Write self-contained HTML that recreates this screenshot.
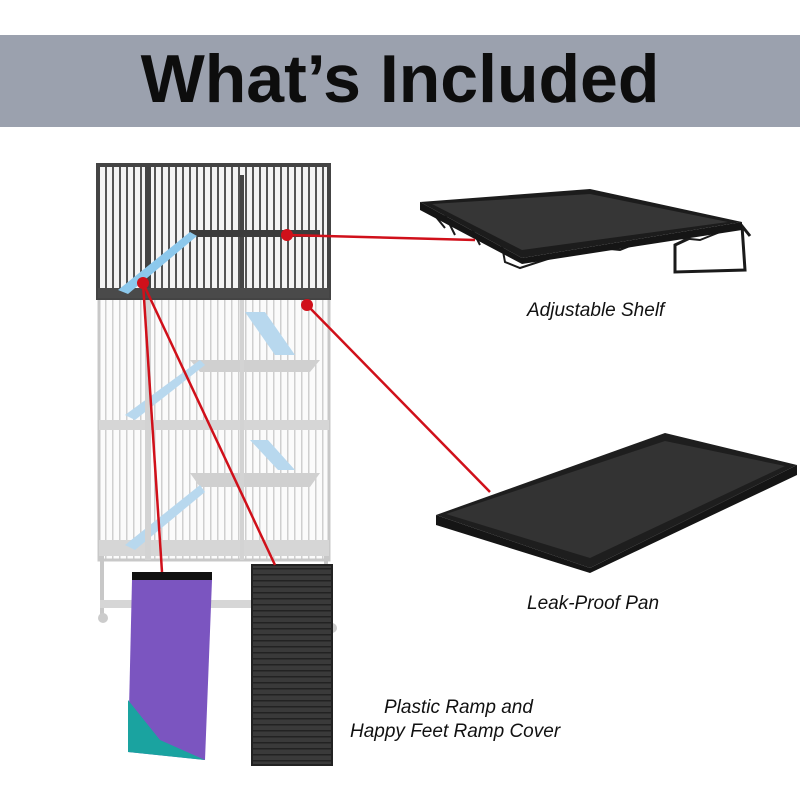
<!DOCTYPE html>
<html><head><style>
html,body{margin:0;padding:0;background:#fff;}
body{width:800px;height:800px;overflow:hidden;position:relative;font-family:"Liberation Sans",sans-serif;}
.t{position:absolute;font-style:italic;font-size:19px;color:#111;white-space:nowrap;}
</style></head><body>
<svg width="800" height="800" viewBox="0 0 800 800" style="position:absolute;left:0;top:0">
<defs>
<pattern id="bd" width="7" height="10" patternUnits="userSpaceOnUse"><rect width="7" height="10" fill="#f4f4f4"/><rect width="2" height="10" fill="#555"/></pattern>
<pattern id="bl" width="7" height="10" patternUnits="userSpaceOnUse"><rect width="7" height="10" fill="#fbfbfb"/><rect width="1.5" height="10" fill="#cfcfcf"/></pattern>
<pattern id="rp" width="10" height="6" patternUnits="userSpaceOnUse"><rect width="10" height="6" fill="#3a3a3a"/><rect y="4" width="10" height="1.5" fill="#222"/></pattern>
</defs>
<rect x="0" y="35" width="800" height="92" fill="#9ba1ae"/>
<text x="400" y="102" text-anchor="middle" font-family="Liberation Sans" font-weight="bold" font-size="68" fill="#0d0d0d">What’s Included</text>

<rect x="99" y="298" width="230" height="262" fill="url(#bl)" stroke="#c8c8c8" stroke-width="3"/>
<rect x="99" y="420" width="230" height="10" fill="#d6d6d6"/>
<rect x="99" y="540" width="230" height="16" fill="#d6d6d6"/>
<polygon points="190,360 320,360 310,372 200,372" fill="#d0d0d0"/>
<polygon points="190,473 320,473 310,487 200,487" fill="#d0d0d0"/>
<polygon points="245,312 265,312 295,355 275,355" fill="#b8d8ee"/>
<polygon points="250,440 268,440 295,470 278,470" fill="#b8d8ee"/>
<polygon points="125,415 200,360 205,365 135,420" fill="#b8d8ee"/>
<polygon points="125,545 200,485 205,492 135,550" fill="#b8d8ee"/>
<rect x="145" y="298" width="6" height="262" fill="#d3d3d3"/>
<rect x="240" y="298" width="4" height="262" fill="#d3d3d3"/>
<rect x="100" y="556" width="4" height="60" fill="#c8c8c8"/>
<rect x="324" y="556" width="4" height="60" fill="#c8c8c8"/>
<rect x="100" y="600" width="228" height="8" fill="#d6d6d6"/>
<circle cx="103" cy="618" r="5" fill="#ccc"/><circle cx="332" cy="628" r="5" fill="#ccc"/>

<rect x="98" y="165" width="231" height="133" fill="url(#bd)" stroke="#444" stroke-width="4"/>
<rect x="145" y="165" width="6" height="133" fill="#444"/>
<rect x="240" y="175" width="4" height="123" fill="#444"/>
<rect x="98" y="288" width="231" height="10" fill="#4a4a4a"/>
<rect x="190" y="230" width="130" height="7" fill="#3c3c3c"/>
<polygon points="118,290 190,232 197,236 128,294" fill="#8cc8ec"/>

<!-- shelf -->
<path d="M432 212 L445 228 M445 215 L455 235 M470 225 L480 245 M500 235 L505 262 L520 268 L560 255 L600 248 L620 250 L640 242 L680 238 L700 240 L720 232" stroke="#1a1a1a" stroke-width="2" fill="none"/>
<path d="M690 238 L675 245 L675 272 L745 270 L742 226 L750 236" stroke="#1a1a1a" stroke-width="3" fill="none"/>
<polygon points="420,202 590,189 742,222 522,258" fill="#1c1c1c"/>
<polygon points="432,204 590,194 728,222 522,250" fill="#363636"/>
<polygon points="420,202 522,258 742,222 742,230 522,264 420,210" fill="#151515"/>

<!-- pan -->
<polygon points="436,515 665,433 797,465 590,568" fill="#1e1e1e"/>
<polygon points="446,514 665,441 785,466 590,558" fill="#333"/>
<polygon points="436,515 590,568 797,465 797,475 590,573 436,525" fill="#151515"/>

<rect x="132" y="572" width="80" height="8" fill="#111"/>
<polygon points="132,580 212,580 205,760 128,752" fill="#7b55c0"/>
<polygon points="128,700 160,740 205,760 128,752" fill="#1aa3a0"/>
<rect x="252" y="565" width="80" height="200" fill="url(#rp)" stroke="#222" stroke-width="2"/>

<g stroke="#d0101a" stroke-width="2.5">
<line x1="287" y1="235" x2="475" y2="240"/>
<line x1="307" y1="305" x2="490" y2="492"/>
<line x1="143" y1="283" x2="162" y2="572"/>
<line x1="143" y1="283" x2="275" y2="565"/>
</g>
<g fill="#d0101a"><circle cx="287" cy="235" r="6"/><circle cx="143" cy="283" r="6"/><circle cx="307" cy="305" r="6"/></g>
</svg>
<div class="t" style="left:527px;top:300px">Adjustable Shelf</div>
<div class="t" style="left:527px;top:593px">Leak-Proof Pan</div>
<div class="t" style="left:384px;top:697px">Plastic Ramp and</div>
<div class="t" style="left:350px;top:721px">Happy Feet Ramp Cover</div>
</body></html>
